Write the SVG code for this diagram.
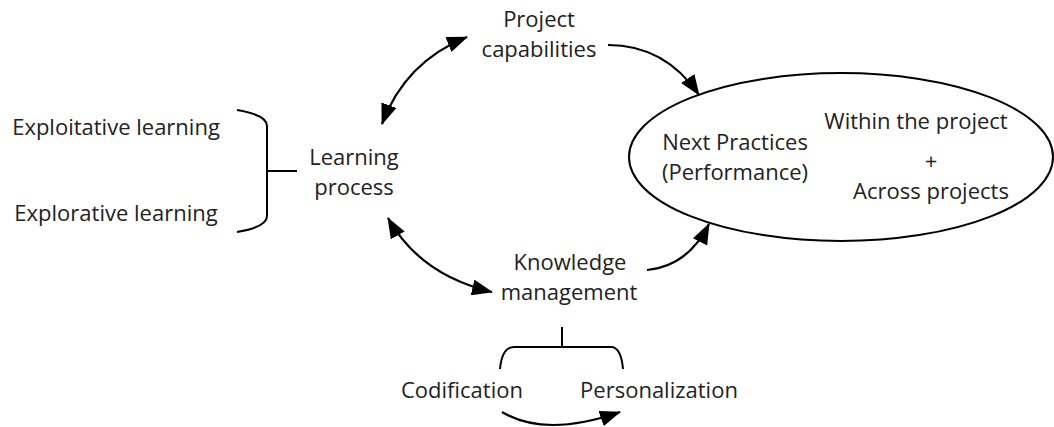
<svg xmlns="http://www.w3.org/2000/svg" width="1054" height="427" viewBox="0 0 1054 427">
<defs>
<marker id="ah" markerUnits="userSpaceOnUse" markerWidth="21" markerHeight="16" viewBox="0 0 21 16" refX="20" refY="8" orient="auto-start-reverse">
<path d="M0,0 L21,8 L0,16 Z" fill="#000"/>
</marker>
<style>
text{font-family:"Open Sans","Liberation Sans",sans-serif;font-size:22px;fill:#222;text-anchor:middle}
.ln{fill:none;stroke:#000;stroke-width:2}
.c{fill:none;stroke:#000;stroke-width:2.2}
</style>
</defs>
<rect width="1054" height="427" fill="#fff"/>
<g id="connectors">
<path class="c" d="M382,124 Q405,62 467,37" marker-start="url(#ah)" marker-end="url(#ah)"/>
<path class="c" d="M608,45 Q665,45 699,95" marker-end="url(#ah)"/>
<path class="c" d="M388,218 Q420,275 492,292" marker-start="url(#ah)" marker-end="url(#ah)"/>
<path class="c" d="M647,270 Q688,266 709,224" marker-end="url(#ah)"/>
<path class="c" d="M502,412 Q545,438 620,412" marker-end="url(#ah)"/>
</g>
<g id="project-capabilities">
<text x="539" y="27">Project</text>
<text x="539" y="57">capabilities</text>
</g>
<g id="learning-process">
<text x="354" y="165">Learning</text>
<text x="354" y="195">process</text>
</g>
<g id="learning-bracket">
<path class="ln" d="M237,110 Q267,115 267,126 L267,216 Q267,227 237,232 M267,171 L297,171"/>
</g>
<g id="exploitative">
<text x="116" y="135">Exploitative learning</text>
</g>
<g id="explorative">
<text x="116" y="221">Explorative learning</text>
</g>
<g id="next-practices">
<ellipse cx="841" cy="157" rx="212" ry="84" class="ln"/>
<text x="735" y="150">Next Practices</text>
<text x="735" y="180">(Performance)</text>
<text x="916" y="129">Within the project</text>
<text x="931" y="169">+</text>
<text x="931" y="199">Across projects</text>
</g>
<g id="knowledge-management">
<text x="570" y="270">Knowledge</text>
<text x="569" y="300">management</text>
</g>
<g id="km-bracket">
<path class="ln" d="M562,327 L562,347 M500,369 Q502,347 514,347 L611,347 Q621,347 623,369"/>
</g>
<g id="codification">
<text x="462" y="398">Codification</text>
</g>
<g id="personalization">
<text x="659" y="398">Personalization</text>
</g>
</svg>
